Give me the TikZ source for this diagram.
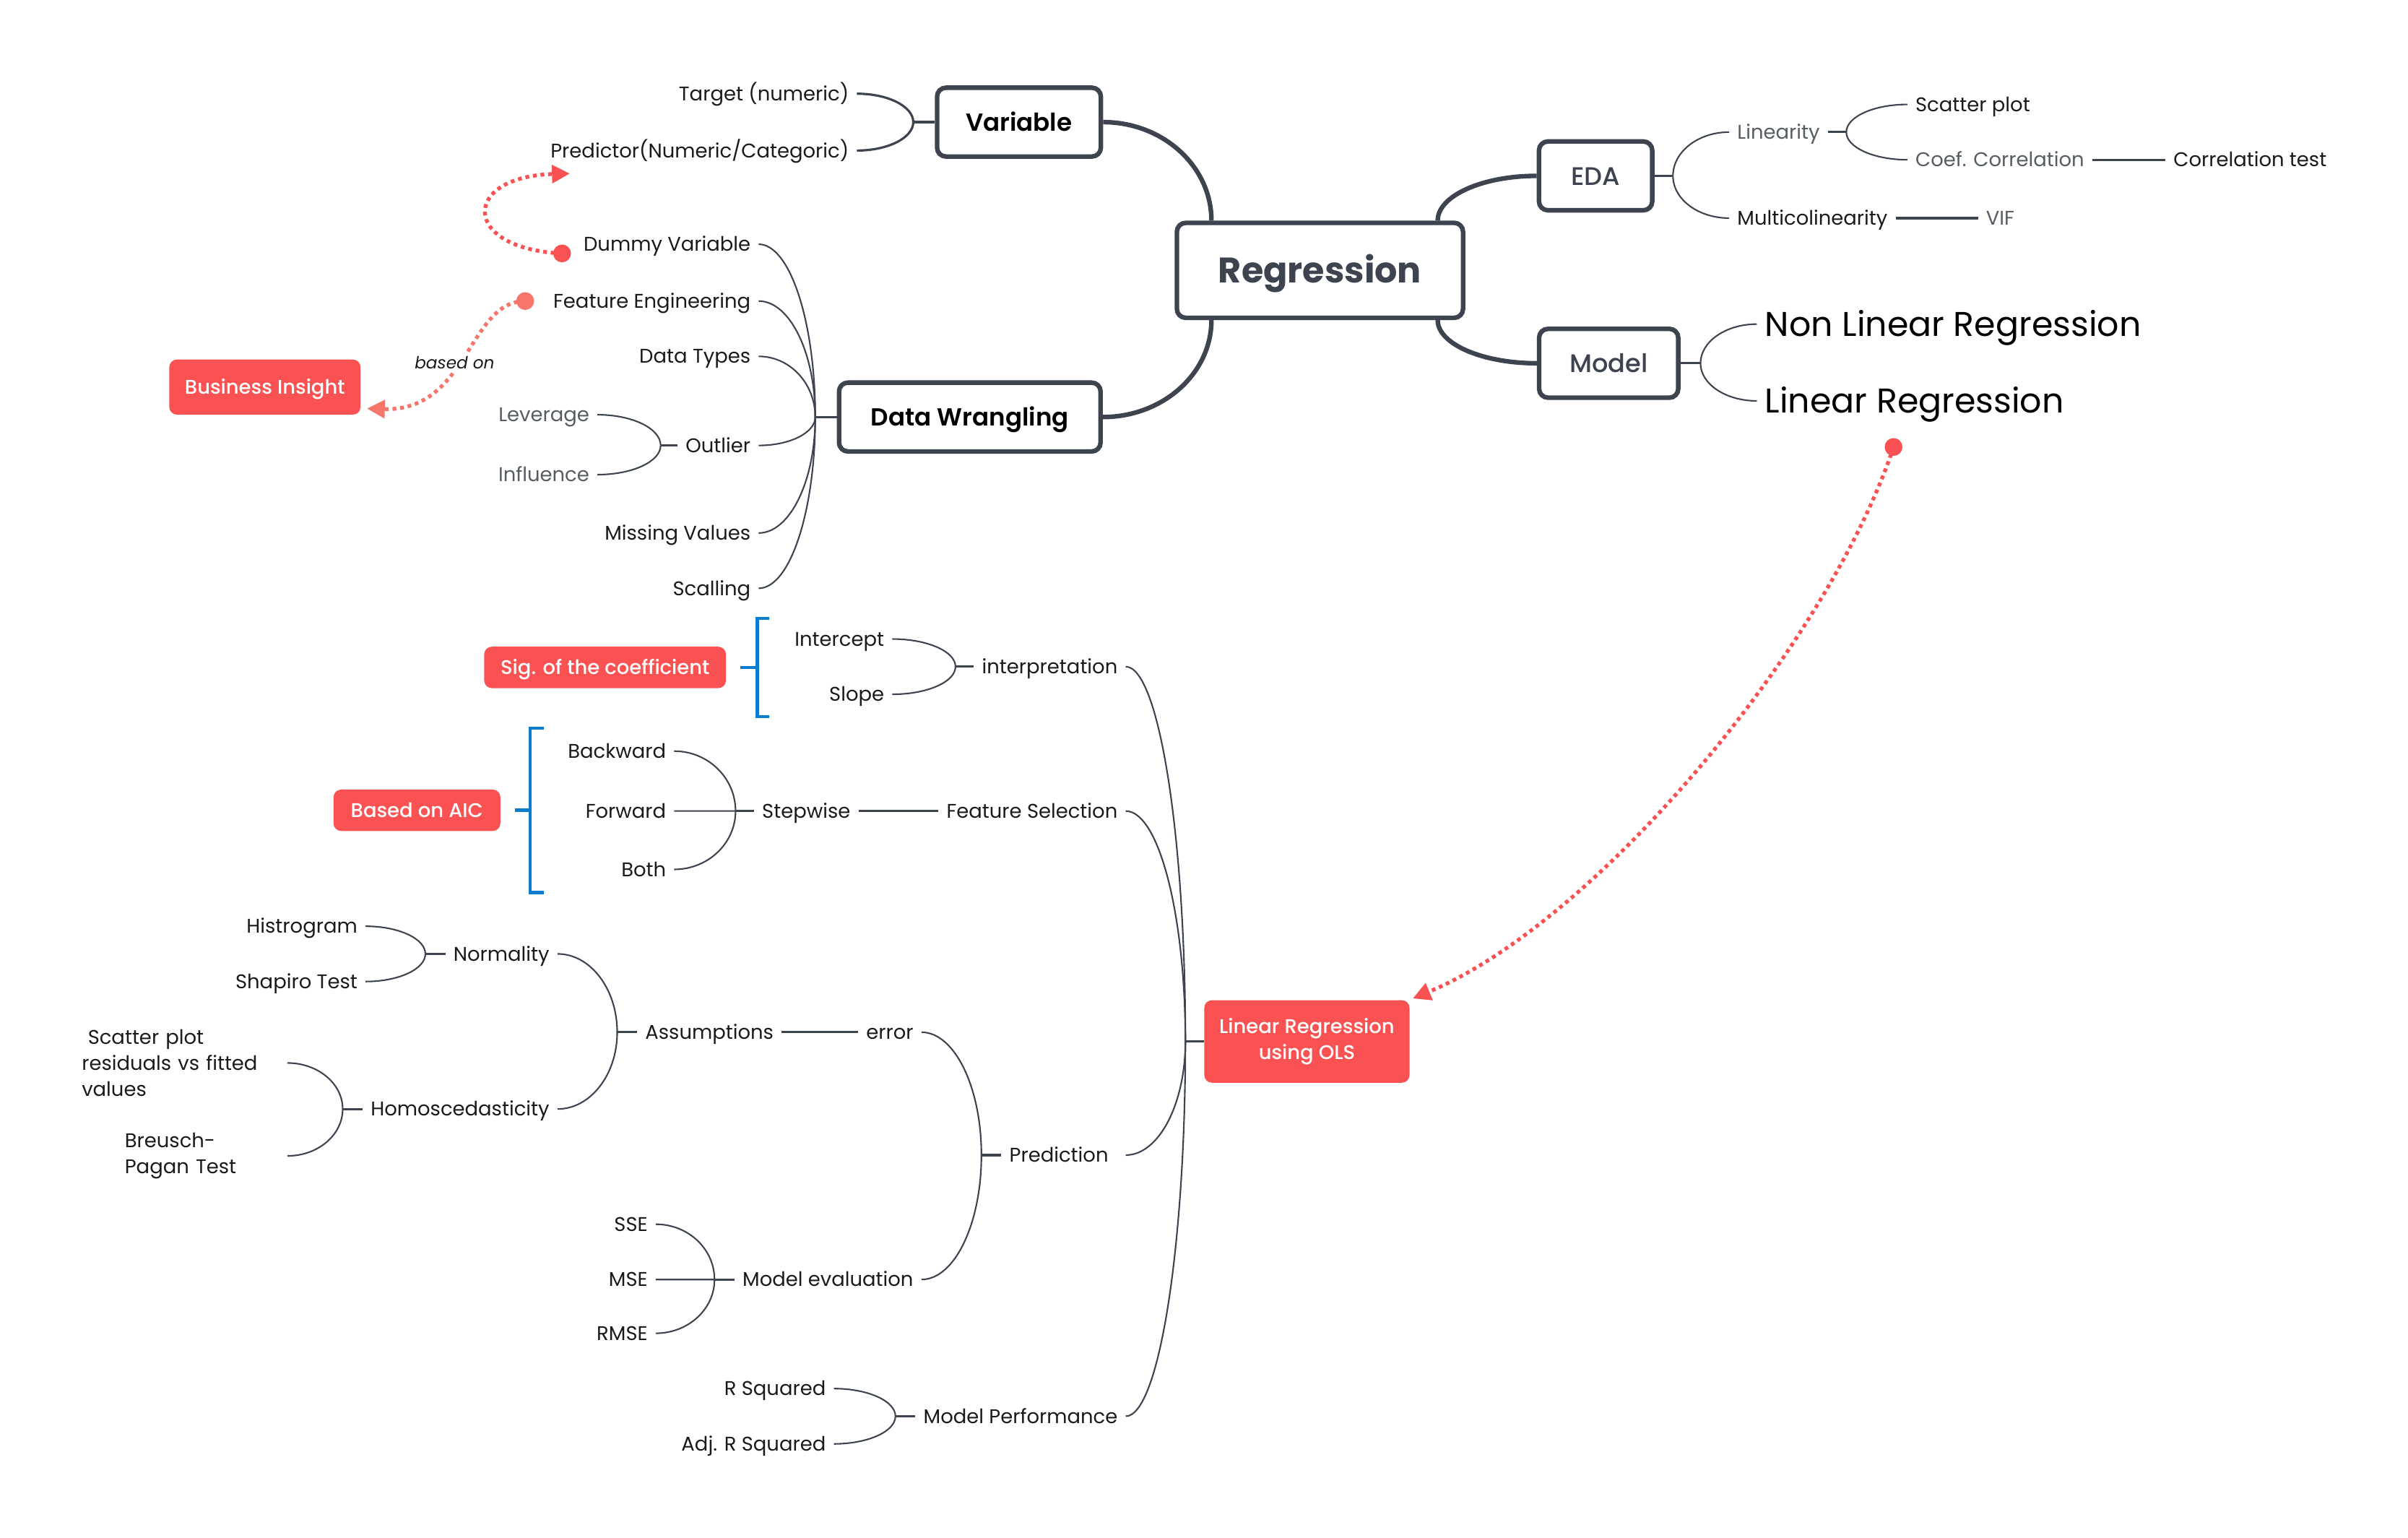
\documentclass[tikz,border=0pt]{standalone}
\usepackage{fontspec}
\setmainfont{Poppins}[BoldFont={Poppins SemiBold}]
\newfontfamily\medfont{Poppins Medium}
\newfontfamily\heavyfont{Poppins Bold}
\usetikzlibrary{calc,arrows.meta,backgrounds}

\definecolor{ink}{HTML}{3D4450}
\definecolor{txt}{HTML}{1A1A1A}
\definecolor{soft}{HTML}{575C64}
\definecolor{hot}{HTML}{FA5252}
\definecolor{hotsoft}{HTML}{F7766B}
\definecolor{brk}{HTML}{0A7CD0}

% quarter-ellipse branch: vertical tangent at #2, horizontal tangent at #3
\newcommand\branch[3][twig]{%
  \draw[#1] (#2) .. controls ($(#2)!0.552!(#2|-#3)$) and ($(#3)!0.552!(#2|-#3)$) .. (#3);}

\tikzset{
  twig/.style={draw=ink, line width=0.6pt},
  stem/.style={draw=ink, line width=0.9pt},
  trunk/.style={draw=ink, line width=1.8pt},
  lbl/.style={font=\fontsize{7.8}{10}\selectfont, text=txt, inner xsep=3pt, inner ysep=1.5pt, text height=5.5pt, text depth=0pt},
  lblL/.style={lbl, anchor=east},
  lblR/.style={lbl, anchor=west},
  dim/.style={text=soft},
  big/.style={font=\fontsize{13.5}{16}\selectfont, text=black, inner xsep=3pt, text height=9.5pt, text depth=0pt, anchor=west},
  topic/.style={draw=ink, line width=1.8pt, rounded corners=3.5pt, fill=white, inner sep=0pt,
    font=\bfseries\fontsize{9.7}{11}\selectfont, text=black, text height=6.9pt, text depth=0pt},
  tag/.style={fill=hot, rounded corners=3pt, text=white, inner sep=0pt,
    font=\medfont\fontsize{7.8}{10.2}\selectfont, text height=5.5pt, text depth=0pt},
  note/.style={font=\fontsize{7.8}{10.2}\selectfont, text=txt, align=left, inner xsep=3pt, inner ysep=1pt, anchor=west},
  link/.style={draw=hot, line width=1.5pt, dash pattern=on 1.5pt off 1.5pt, -{Triangle[length=7pt,width=7pt]}},
  dot/.style={circle, fill=hot, inner sep=0pt, minimum size=7pt},
  bracket/.style={draw=brk, line width=1.3pt},
}

\begin{document}
\begin{tikzpicture}[x=0.02126cm, y=-0.02126cm]
\useasboundingbox (0,0) rectangle (1568,1001);

% ---------- main topics ----------
\node[topic, font=\heavyfont\fontsize{14}{16}\selectfont, text=ink, text height=10pt,
      minimum width=112.7pt, minimum height=37.4pt] (reg) at (859.5,176) {Regression};
\node[topic, minimum width=64.5pt, minimum height=27.1pt] (var) at (663.5,79.5) {Variable};
\node[topic, minimum width=103pt, minimum height=27.1pt] (dw) at (631.5,271.5) {Data Wrangling};
\node[topic, text=ink, font=\medfont\fontsize{10}{12}\selectfont, text height=7.2pt,
      minimum width=44.6pt, minimum height=27.1pt] (eda) at (1039,114.5) {EDA};
\node[topic, text=ink, font=\medfont\fontsize{10}{12}\selectfont, text height=7.2pt,
      minimum width=54.8pt, minimum height=27.1pt] (mdl) at (1047.5,236.5) {Model};

% ---------- Variable ----------
\node[lblL] (tgt) at (558,61) {Target (numeric)};
\node[lblL] (prd) at (558,98) {Predictor(Numeric/Categoric)};

% ---------- Data Wrangling ----------
\node[lblL] (dummy) at (494,159) {Dummy Variable};
\node[lblL] (feng) at (494,196) {Feature Engineering};
\node[lblL] (dtypes) at (494,232) {Data Types};
\node[lblL] (outl) at (494,290) {Outlier};
\node[lblL] (miss) at (494,347) {Missing Values};
\node[lblL] (scal) at (494,383) {Scalling};
\node[lblL, dim] (lev) at (389,270) {Leverage};
\node[lblL, dim] (infl) at (389,309) {Influence};
\node[tag, minimum width=75.3pt, minimum height=21.7pt] (biz) at (172.5,252) {Business Insight};

% ---------- EDA ----------
\node[lblR, dim] (lin) at (1126,86) {Linearity};
\node[lblR] (mcol) at (1126,142) {Multicolinearity};
\node[lblR] (scat) at (1242,68) {Scatter plot};
\node[lblR, dim] (coef) at (1242,104) {Coef. Correlation};
\node[lblR] (ctest) at (1410,104) {Correlation test};
\node[lblR, dim] (vif) at (1288,142) {VIF};

% ---------- Model ----------
\node[big] (nlr) at (1144,211) {Non Linear Regression};
\node[big] (lr) at (1144,261) {Linear Regression};

% ---------- OLS ----------
\node[tag, text height=, text depth=, align=center, minimum width=80.8pt, minimum height=32.5pt]
      (ols) at (851,678) {Linear Regression\\using OLS};
\node[lblL] (interp) at (733,434) {interpretation};
\node[lblL] (fsel) at (733,528) {Feature Selection};
\node[lblL] (pred) at (727,752) {Prediction};
\node[lblL] (mperf) at (733,922) {Model Performance};

\node[lblL] (icpt) at (581,416) {Intercept};
\node[lblL] (slope) at (581,452) {Slope};
\node[tag, minimum width=95.2pt, minimum height=16.3pt] (sig) at (394,434.5) {Sig. of the coefficient};

\node[lblL] (step) at (559,528) {Stepwise};
\node[lblL] (back) at (439,489) {Backward};
\node[lblL] (fwd) at (439,528) {Forward};
\node[lblL] (both) at (439,566) {Both};
\node[tag, minimum width=65.7pt, minimum height=16.3pt] (aic) at (271.5,527.5) {Based on AIC};

\node[lblL] (err) at (600,672) {error};
\node[lblL] (assum) at (509,672) {Assumptions};
\node[lblL] (norm) at (363,621) {Normality};
\node[lblL] (homo) at (363,722) {Homoscedasticity};
\node[lblL] (hist) at (238,603) {Histrogram};
\node[lblL] (shap) at (238,639) {Shapiro Test};
\node[note, text width=77.7pt] (resid) at (48,692) {\hspace*{2.4pt}Scatter plot\\residuals vs fitted\\values};
\node[note, text width=60.9pt] (bp) at (76,752.5) {Breusch-\\Pagan Test};

\node[lblL] (meval) at (600,833) {Model evaluation};
\node[lblL] (sse) at (427,797) {SSE};
\node[lblL] (mse) at (427,833) {MSE};
\node[lblL] (rmse) at (427,868) {RMSE};
\node[lblL] (rsq) at (543,904) {R Squared};
\node[lblL] (arsq) at (543,940) {Adj. R Squared};

% ---------- relation markers ----------
\node[dot] (d1) at (366,165) {};
\node[dot, fill=hotsoft] (d2) at (342,196) {};
\node[dot] (d3) at (1233,291) {};
\coordinate (a1) at (371,113);
\coordinate (a2) at (239,266);
\coordinate (a3) at (920,650);

\begin{pgfonlayer}{background}
  % trunks from the central topic
  \coordinate (rv) at ($(reg.north west)+(24,0)$);
  \coordinate (rd) at ($(reg.south west)+(24,0)$);
  \coordinate (re) at ($(reg.north east)+(-18,0)$);
  \coordinate (rm) at ($(reg.south east)+(-18,0)$);
  \branch[trunk]{rv}{var.east}
  \branch[trunk]{rd}{dw.east}
  \branch[trunk]{re}{eda.west}
  \branch[trunk]{rm}{mdl.west}

  % Variable
  \coordinate (jv) at ($(var.west)+(-14,0)$);
  \draw[stem] (var.west) -- (jv);
  \branch[stem]{jv}{tgt.east}
  \branch[stem]{jv}{prd.east}

  % Data Wrangling
  \coordinate (jd) at ($(dw.west)+(-14,0)$);
  \draw[stem] (dw.west) -- (jd);
  \foreach \c in {dummy,feng,dtypes,outl,miss,scal}{\branch{jd}{\c.east}}
  \coordinate (jo) at ($(outl.west)+(-11,0)$);
  \draw[stem] (outl.west) -- (jo);
  \branch{jo}{lev.east}
  \branch{jo}{infl.east}

  % EDA
  \coordinate (je) at ($(eda.east)+(12,0)$);
  \draw[stem] (eda.east) -- (je);
  \branch{je}{lin.west}
  \branch{je}{mcol.west}
  \coordinate (jl) at ($(lin.east)+(12,0)$);
  \draw[stem] (lin.east) -- (jl);
  \branch{jl}{scat.west}
  \branch{jl}{coef.west}
  \draw[stem] (coef.east) -- (ctest.west);
  \draw[stem] (mcol.east) -- (vif.west);

  % Model
  \coordinate (jm) at ($(mdl.east)+(13,0)$);
  \draw[stem] (mdl.east) -- (jm);
  \branch{jm}{nlr.west}
  \branch{jm}{lr.west}

  % Linear Regression using OLS
  \coordinate (jols) at ($(ols.west)+(-12,0)$);
  \draw[stem] (ols.west) -- (jols);
  \coordinate (predin) at ($(pred.east)+(6,0)$);
  \foreach \c in {interp.east,fsel.east,predin,mperf.east}{\branch{jols}{\c}}

  \coordinate (ji) at ($(interp.west)+(-12,0)$);
  \draw[stem] (interp.west) -- (ji);
  \branch{ji}{icpt.east}
  \branch{ji}{slope.east}

  \draw[stem] (step.east) -- (fsel.west);
  \coordinate (js) at ($(step.west)+(-12,0)$);
  \draw[stem] (step.west) -- (js);
  \foreach \c in {back,fwd,both}{\branch{js}{\c.east}}

  \coordinate (jp) at ($(pred.west)+(-13,0)$);
  \draw[stem] (pred.west) -- (jp);
  \branch{jp}{err.east}
  \branch{jp}{meval.east}

  \draw[stem] (assum.east) -- (err.west);
  \coordinate (ja) at ($(assum.west)+(-13,0)$);
  \draw[stem] (assum.west) -- (ja);
  \branch{ja}{norm.east}
  \branch{ja}{homo.east}

  \coordinate (jn) at ($(norm.west)+(-13,0)$);
  \draw[stem] (norm.west) -- (jn);
  \branch{jn}{hist.east}
  \branch{jn}{shap.east}

  \coordinate (jh) at ($(homo.west)+(-13,0)$);
  \draw[stem] (homo.west) -- (jh);
  \branch{jh}{resid.east}
  \branch{jh}{bp.east}

  \coordinate (jme) at ($(meval.west)+(-13,0)$);
  \draw[stem] (meval.west) -- (jme);
  \foreach \c in {sse,mse,rmse}{\branch{jme}{\c.east}}

  \coordinate (jmp) at ($(mperf.west)+(-13,0)$);
  \draw[stem] (mperf.west) -- (jmp);
  \branch{jmp}{rsq.east}
  \branch{jmp}{arsq.east}

  % summary brackets
  \coordinate (sb) at ($(sig.east)+(9,0)$);
  \draw[bracket] (sb) -- ++(11,0);
  \draw[bracket] ($(sb)+(19,-32)$) -- ($(sb)+(11,-32)$) -- ($(sb)+(11,32)$) -- ($(sb)+(19,32)$);
  \coordinate (ab) at ($(aic.east)+(9,0)$);
  \draw[bracket] (ab) -- ++(10,0);
  \draw[bracket] ($(ab)+(19,-53.5)$) -- ($(ab)+(10,-53.5)$) -- ($(ab)+(10,53.5)$) -- ($(ab)+(19,53.5)$);

  % relations
  \draw[link] (d1.center) .. controls (300,162) and (300,115) .. (a1);
  \draw[link, draw=hotsoft] (d2.center) .. controls (305,196) and (305,268) .. (a2);
  \draw[link] (d3.center) .. controls (1190,420) and (1040,600) .. (a3);
\end{pgfonlayer}

\node[font=\itshape\fontsize{6.6}{8}\selectfont, text=txt, fill=white, inner sep=1pt] (based) at (296,236) {based on};

\end{tikzpicture}
\end{document}
